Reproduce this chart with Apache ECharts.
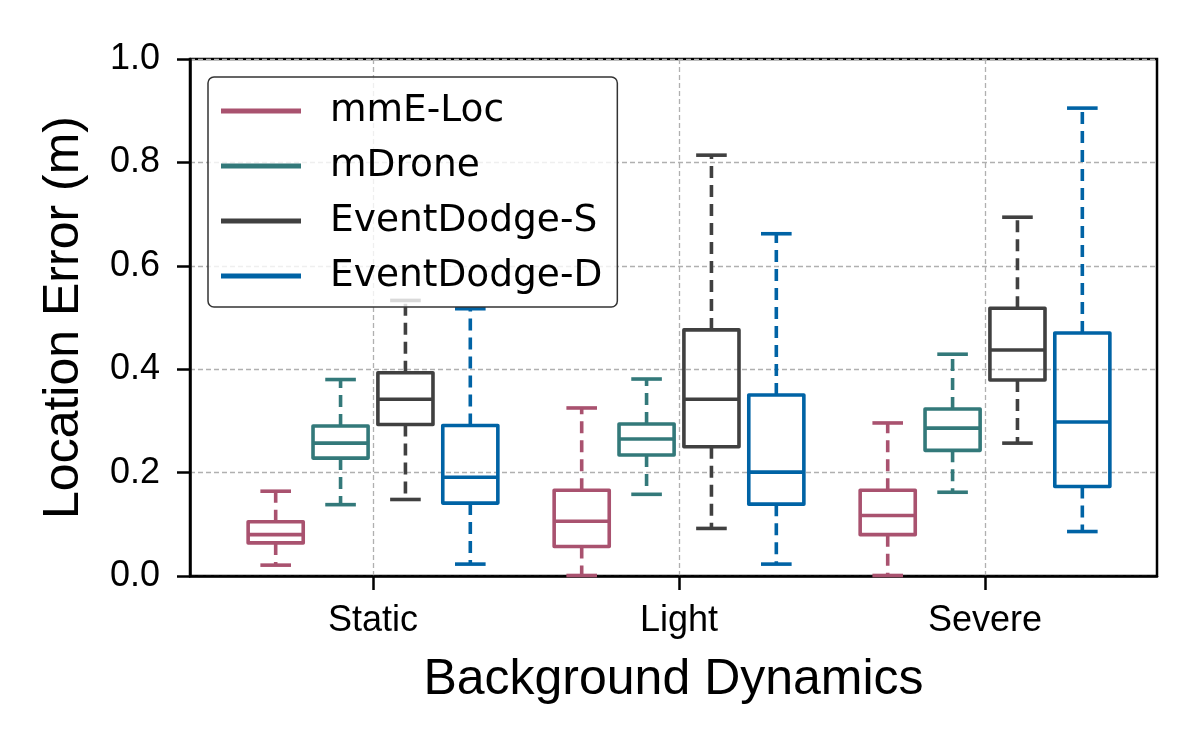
<!DOCTYPE html>
<html>
<head>
<meta charset="utf-8">
<script src="https://cdn.jsdelivr.net/npm/echarts@6/dist/echarts.min.js"></script>
<style>html,body{margin:0;padding:0;background:#fff;}#c{width:1200px;height:750px;}</style>
</head>
<body>
<div id="c"></div>
<script>
// Categories (x tick labels)
const categories = ['Static', 'Light', 'Severe'];
const seriesNames = ['mmE-Loc', 'mDrone', 'EventDodge-S', 'EventDodge-D'];
// Each entry per category: [lower whisker, Q1, median, Q3, upper whisker]
const mmELoc       = [[0.021, 0.064, 0.080, 0.105, 0.164], [0.001, 0.057, 0.106, 0.166, 0.325], [0.001, 0.080, 0.117, 0.166, 0.296]];
const mDrone       = [[0.138, 0.228, 0.257, 0.290, 0.380], [0.158, 0.234, 0.265, 0.294, 0.381], [0.162, 0.243, 0.286, 0.323, 0.429]];
const eventDodgeS  = [[0.148, 0.293, 0.342, 0.393, 0.533], [0.092, 0.250, 0.342, 0.476, 0.814], [0.257, 0.379, 0.437, 0.518, 0.694]];
const eventDodgeD  = [[0.023, 0.141, 0.191, 0.291, 0.517], [0.023, 0.139, 0.201, 0.350, 0.662], [0.086, 0.173, 0.298, 0.470, 0.905]];
const yTicks = [0, 0.2, 0.4, 0.6, 0.8, 1.0];

const allData = [mmELoc, mDrone, eventDodgeS, eventDodgeD];
const colors = ['#A9526F', '#33797A', '#404040', '#0063A5'];

const GROUP_STEP = 0.212;   // spacing between boxes within a group (axis units)
const BOX_W = 0.18;
const CAP_W = 0.10;

function renderItem(params, api) {
  const x = api.value(0);
  const lo = api.value(1), q1 = api.value(2), med = api.value(3), q3 = api.value(4), hi = api.value(5);
  const color = colors[params.seriesIndex];
  const halfBox = api.size([BOX_W, 0])[0] / 2;
  const halfCap = api.size([CAP_W, 0])[0] / 2;
  const pLo = api.coord([x, lo]), pQ1 = api.coord([x, q1]), pMed = api.coord([x, med]),
        pQ3 = api.coord([x, q3]), pHi = api.coord([x, hi]);
  const cx = pLo[0];
  const solid = {stroke: color, lineWidth: 3.6, fill: null, lineJoin: 'round'};
  const dashed = {stroke: color, lineWidth: 3.6, lineDash: [12, 7], fill: null};
  return {
    type: 'group',
    children: [
      {type: 'line', shape: {x1: cx, y1: pQ3[1], x2: cx, y2: pHi[1]}, style: dashed},
      {type: 'line', shape: {x1: cx, y1: pQ1[1], x2: cx, y2: pLo[1]}, style: dashed},
      {type: 'line', shape: {x1: cx - halfCap, y1: pHi[1], x2: cx + halfCap, y2: pHi[1]}, style: solid},
      {type: 'line', shape: {x1: cx - halfCap, y1: pLo[1], x2: cx + halfCap, y2: pLo[1]}, style: solid},
      {type: 'rect', shape: {x: cx - halfBox, y: pQ3[1], width: halfBox * 2, height: pQ1[1] - pQ3[1]}, style: solid},
      {type: 'line', shape: {x1: cx - halfBox, y1: pMed[1], x2: cx + halfBox, y2: pMed[1]}, style: solid}
    ]
  };
}

const series = seriesNames.map((name, s) => ({
  name: name,
  type: 'custom',
  renderItem: renderItem,
  itemStyle: {color: colors[s]},
  encode: {x: 0, y: [1, 2, 3, 4, 5]},
  data: allData[s].map((d, i) => [i + 1 + (s - 1.5) * GROUP_STEP].concat(d)),
  z: 2
}));

const chart = echarts.init(document.getElementById('c'));
chart.setOption({
  animation: false,
  backgroundColor: '#ffffff',
  grid: {left: 190, right: 43, top: 59, bottom: 174, show: true, borderColor: '#000', borderWidth: 2.5, backgroundColor: 'transparent'},
  legend: {
    orient: 'vertical',
    left: 208, top: 77,
    padding: [14, 15, 11, 13],
    itemWidth: 80, itemHeight: 5, itemGap: 15,
    icon: 'rect',
    backgroundColor: 'rgba(255,255,255,0.8)',
    borderColor: '#333', borderWidth: 1.5, borderRadius: 6,
    textStyle: {fontFamily: 'DejaVu Sans', fontSize: 37.5, color: '#000', lineHeight: 40, padding: [0, 0, 0, 24]},
    data: seriesNames,
    z: 10
  },
  xAxis: {
    type: 'value',
    min: 0.402, max: 3.562,
    name: 'Background Dynamics',
    nameLocation: 'middle',
    nameGap: 79,
    nameTextStyle: {fontFamily: 'Liberation Sans', fontSize: 50, color: '#000'},
    axisLine: {show: true, lineStyle: {color: '#000', width: 2.5}},
    axisTick: {show: true, customValues: [1, 2, 3], length: 14, inside: false, lineStyle: {color: '#000', width: 2.5}},
    axisLabel: {customValues: [1, 2, 3], formatter: v => categories[Math.round(v) - 1] || '', fontFamily: 'Liberation Sans', fontSize: 36, color: '#000', margin: 27},
    splitLine: {show: true, lineStyle: {color: '#b0b0b0', width: 1.3, type: [5, 3]}}
  },
  yAxis: {
    type: 'value',
    min: 0, max: 1, interval: 0.2,
    name: 'Location Error (m)',
    nameLocation: 'middle',
    nameGap: 101,
    nameTextStyle: {fontFamily: 'Liberation Sans', fontSize: 50, color: '#000'},
    axisLine: {show: true, lineStyle: {color: '#000', width: 2.5}},
    axisTick: {show: true, length: 13, inside: false, lineStyle: {color: '#000', width: 2.5}},
    axisLabel: {formatter: v => v.toFixed(1), fontFamily: 'Liberation Sans', fontSize: 36, color: '#000', margin: 30},
    splitLine: {show: true, lineStyle: {color: '#b0b0b0', width: 1.3, type: [5, 3]}}
  },
  series: series
});
</script>
</body>
</html>
